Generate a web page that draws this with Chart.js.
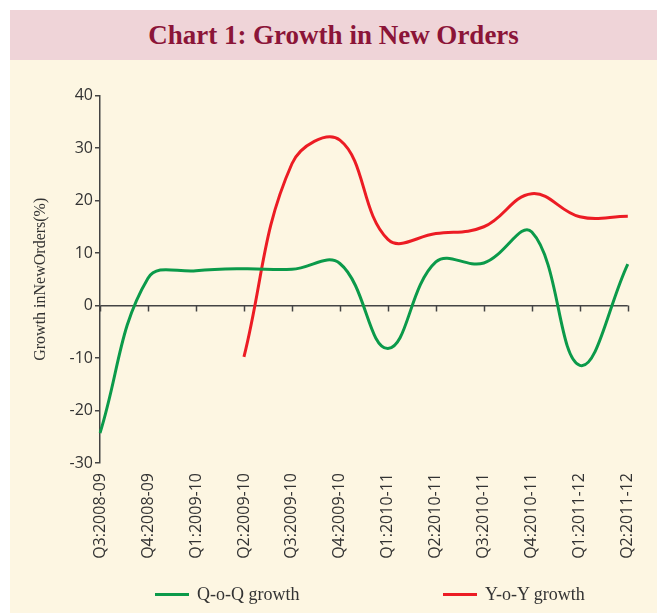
<!DOCTYPE html>
<html>
<head>
<meta charset="utf-8">
<script src="https://cdn.jsdelivr.net/npm/chart.js@4/dist/chart.umd.min.js"></script>
<style>
  html, body { margin: 0; padding: 0; background: #ffffff; }
  #wrap { position: absolute; left: 10px; top: 10px; width: 647px; height: 603px; background: #fdf6e2; }
  #title { position: absolute; left: 0; top: 0; width: 647px; height: 50px; background: #efd4d8;
    display: flex; align-items: center; justify-content: center;
    font-family: "Liberation Serif", serif; font-weight: bold; font-size: 27px; color: #8b1538; }
  #chartbox { position: absolute; left: 0; top: 50px; width: 647px; height: 553px; }
  #legend { position: absolute; left: 0; top: 572px; width: 647px; height: 24px;
    font-family: "Liberation Serif", serif; font-size: 18px; color: #333; }
  .lg-item { position: absolute; top: 0; height: 24px; display: flex; align-items: center; }
  .lg-line { width: 34px; height: 3px; margin-right: 8px; }
</style>
</head>
<body>
<div id="wrap">
  <div id="title">Chart 1: Growth in New Orders</div>
  <div id="chartbox"><canvas id="c" width="647" height="553"></canvas></div>
  <div id="legend"></div>
</div>
<script>
const categories = ['Q3:2008-09','Q4:2008-09','Q1:2009-10','Q2:2009-10','Q3:2009-10','Q4:2009-10',
                    'Q1:2010-11','Q2:2010-11','Q3:2010-11','Q4:2010-11','Q1:2011-12','Q2:2011-12'];
const qoqGrowth = [-24.3, 5.2, 6.6, 7.0, 6.9, 8.0, -8.2, 8.3, 8.1, 14.0, -11.4, 7.9];
const yoyGrowth = [null, null, null, -9.8, 27.0, 31.5, 12.6, 13.7, 15.0, 21.3, 16.9, 17.0];
const seriesNames = ['Q-o-Q growth', 'Y-o-Y growth'];
const yTitle = 'Growth inNewOrders(%)';

const axisColor = '#444444';
const tickFont = { family: '"Open Sans", sans-serif', size: 16 };

const zeroTicks = {
  id: 'zeroTicks',
  afterDatasetsDraw(chart) {
    const x = chart.scales.x, y = chart.scales.y;
    const y0 = y.getPixelForValue(0);
    const ctx = chart.ctx;
    ctx.save();
    ctx.strokeStyle = axisColor;
    ctx.lineWidth = 1.5;
    categories.forEach((c, i) => {
      const px = Math.round(x.getPixelForValue(i)) + 0.5;
      ctx.beginPath();
      ctx.moveTo(px, y0);
      ctx.lineTo(px, y0 + 6);
      ctx.stroke();
    });
    ctx.restore();
  }
};

const chart = new Chart(document.getElementById('c'), {
  type: 'line',
  data: {
    labels: categories,
    datasets: [
      { label: seriesNames[0], data: qoqGrowth, borderColor: '#0b9a4a', backgroundColor: '#0b9a4a',
        borderWidth: 3, pointRadius: 0, tension: 0.4, fill: false },
      { label: seriesNames[1], data: yoyGrowth, borderColor: '#ec1c24', backgroundColor: '#ec1c24',
        borderWidth: 3, pointRadius: 0, tension: 0.4, fill: false }
    ]
  },
  options: {
    responsive: false,
    animation: false,
    layout: { padding: { top: 35.5, right: 21, left: 0, bottom: 0 } },
    plugins: { legend: { display: false }, tooltip: { enabled: false }, title: { display: false } },
    scales: {
      x: {
        offset: false,
        grid: { display: false, drawTicks: false },
        border: { display: false },
        ticks: { font: tickFont, color: '#333', maxRotation: 90, minRotation: 90, padding: 10, autoSkip: false },
        afterFit(s) { s.height = 150; }
      },
      y: {
        min: -30, max: 40,
        ticks: { stepSize: 10, font: tickFont, color: '#333', padding: 2 },
        grid: {
          drawOnChartArea: true,
          color: (c) => (c.tick && c.tick.value === 0) ? axisColor : 'rgba(0,0,0,0)',
          lineWidth: 1.5,
          tickColor: axisColor, tickLength: 5
        },
        border: { display: true, color: axisColor, width: 1.5 },
        title: { display: true, text: yTitle, color: '#333',
          font: { family: '"Liberation Serif", serif', size: 16 }, padding: { top: 21, bottom: 0 } },
        afterFit(s) { s.width = 90; }
      }
    }
  },
  plugins: [zeroTicks]
});

// HTML legend built from the chart's datasets
const legendX = [145, 433];
const legendEl = document.getElementById('legend');
chart.data.datasets.forEach((ds, i) => {
  const item = document.createElement('div');
  item.className = 'lg-item';
  item.style.left = legendX[i] + 'px';
  const line = document.createElement('div');
  line.className = 'lg-line';
  line.style.background = ds.borderColor;
  const txt = document.createElement('span');
  txt.textContent = ds.label;
  item.appendChild(line);
  item.appendChild(txt);
  legendEl.appendChild(item);
});
</script>
</body>
</html>
